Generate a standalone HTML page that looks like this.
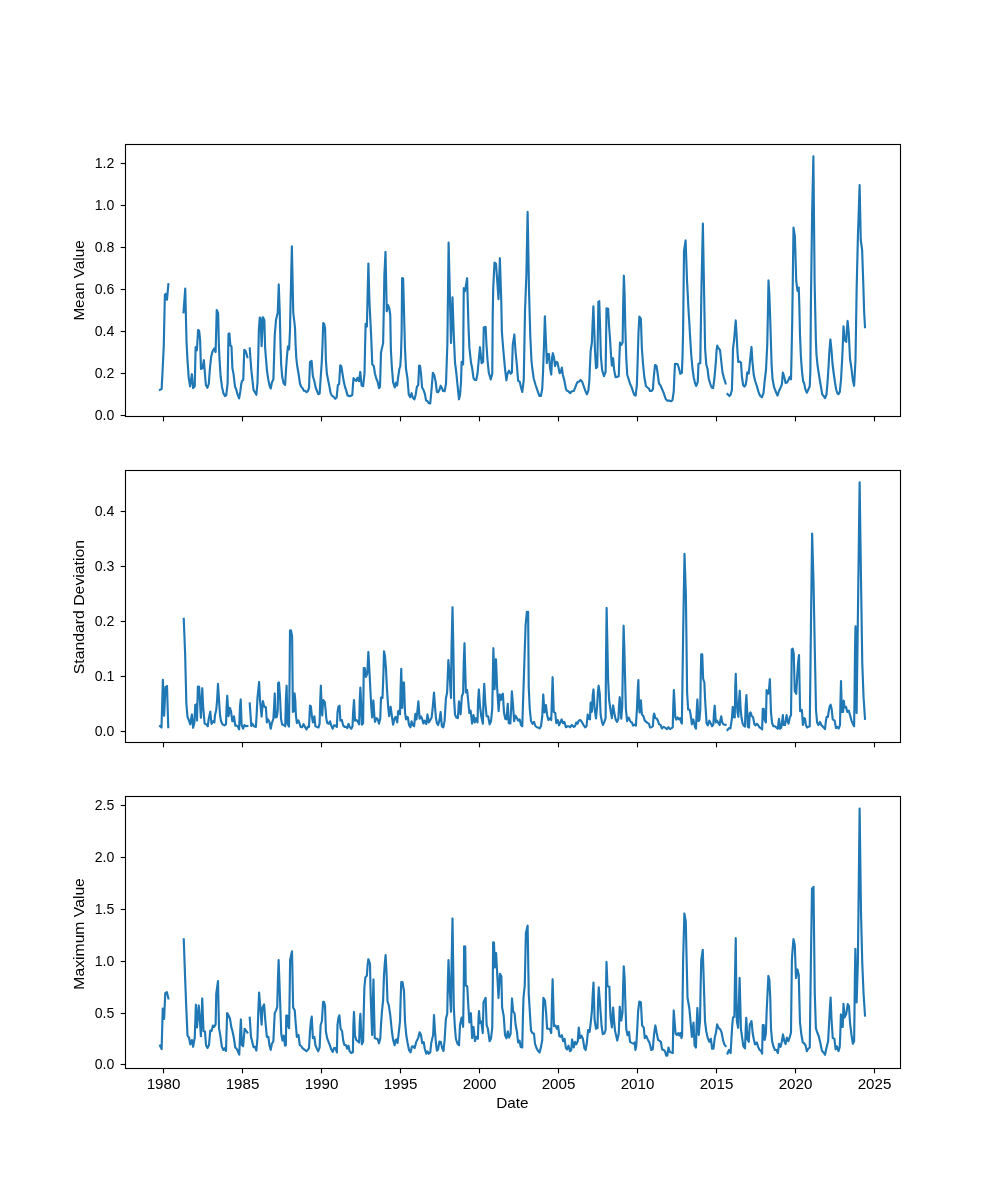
<!DOCTYPE html>
<html><head><meta charset="utf-8"><title>chart</title>
<style>
html,body{margin:0;padding:0;background:#fff;}
svg{display:block;will-change:transform;}
text{font-family:"Liberation Sans",sans-serif;font-size:13.90px;fill:#000;}
.fr{fill:none;stroke:#000;stroke-width:1.11;stroke-linecap:square;stroke-linejoin:miter;}
.tk{stroke:#000;stroke-width:1.11;}
.ln{fill:none;stroke:#1f77b4;stroke-width:2.15;stroke-linejoin:round;stroke-linecap:square;}
</style></head>
<body>
<svg width="1000" height="1200" viewBox="0 0 1000 1200">
<rect x="0" y="0" width="1000" height="1200" fill="#ffffff"/>
<g>
<clipPath id="c0"><rect x="125.50" y="144.50" width="775.00" height="272.00"/></clipPath>
<g clip-path="url(#c0)">
<path class="ln" d="M160.00 389.75 L161.62 389.12 L162.62 370.00 L163.75 346.25 L164.88 294.75 L165.88 293.88 L167.00 299.68 L168.38 284.12"/>
<path class="ln" d="M183.50 312.25 L185.25 288.57 L186.50 341.25 L187.50 360.62 L188.75 378.12 L190.12 386.43 L191.88 374.20 L193.12 388.12 L194.75 386.25 L195.62 347.20 L196.88 350.30 L198.12 330.00 L199.12 330.62 L200.12 340.00 L201.00 369.00 L202.50 368.12 L203.88 360.20 L204.62 370.00 L205.88 385.00 L207.38 387.75 L208.75 384.00 L210.00 367.50 L211.25 356.25 L212.50 351.50 L214.25 348.50 L215.62 352.05 L216.75 310.00 L218.12 313.12 L218.88 345.00 L219.50 358.75 L220.62 376.25 L222.00 386.88 L223.38 393.12 L225.00 396.00 L226.25 395.25 L227.62 383.12 L228.50 333.75 L229.38 333.38 L230.38 345.38 L231.50 346.50 L232.38 368.12 L233.50 373.75 L235.00 386.62 L236.12 389.00 L237.50 394.38 L239.12 398.38 L240.25 391.88 L241.25 384.00 L242.12 380.62 L243.25 380.00 L244.25 349.75 L245.62 351.00 L246.50 353.75 L247.38 357.12"/>
<path class="ln" d="M249.75 348.50 L250.38 357.50 L251.25 369.38 L252.50 380.62 L253.50 390.00 L254.75 391.88 L256.38 394.75 L257.50 382.50 L258.25 357.50 L258.88 330.00 L259.75 317.50 L260.62 318.12 L261.62 346.18 L263.00 317.20 L264.38 320.25 L265.12 347.50 L265.88 357.50 L267.00 370.62 L268.25 379.38 L269.50 385.62 L270.75 388.50 L271.88 382.50 L273.38 379.38 L274.12 356.25 L274.75 335.00 L276.00 320.00 L277.75 312.50 L278.75 284.45 L279.75 312.50 L280.50 345.00 L281.12 363.75 L282.12 376.25 L283.50 383.12 L285.12 385.00 L286.00 370.00 L286.88 357.50 L287.88 346.50 L289.12 349.38 L290.00 330.00 L290.62 300.00 L291.88 246.32 L293.25 312.50 L295.00 327.50 L295.62 345.00 L296.25 357.50 L297.25 366.25 L298.75 375.00 L300.00 383.75 L301.25 386.88 L302.75 388.50 L303.75 390.62 L305.38 391.00 L306.62 392.25 L307.88 391.00 L309.00 388.12 L310.00 361.88 L311.62 361.00 L312.88 376.25 L314.38 381.25 L315.62 387.50 L317.12 391.25 L318.25 394.12 L319.62 393.75 L320.62 378.75 L321.75 362.50 L322.50 345.00 L323.25 323.12 L324.25 324.00 L325.12 328.75 L325.88 360.00 L326.88 373.75 L328.12 380.00 L329.38 386.25 L330.62 393.12 L331.88 395.62 L333.75 396.88 L335.25 398.75 L336.62 397.50 L337.88 385.00 L339.12 384.00 L340.25 365.25 L341.25 366.00 L342.50 373.75 L343.75 381.62 L345.00 386.88 L346.25 390.62 L347.50 395.38 L350.00 396.25 L352.25 395.00 L353.50 378.12 L355.00 380.00 L356.25 380.88 L357.50 377.75 L359.00 381.25 L360.25 371.95 L361.62 385.62 L363.12 386.25 L364.50 373.75 L365.12 345.00 L365.62 323.75 L366.88 326.62 L367.62 295.00 L368.38 263.57 L369.38 300.00 L370.62 325.00 L371.38 341.25 L372.25 364.38 L373.75 366.00 L375.00 373.75 L376.25 378.50 L377.50 381.25 L379.00 388.12 L380.00 386.88 L381.00 352.50 L382.00 348.12 L383.12 343.12 L383.75 312.50 L384.38 275.00 L385.50 251.95 L386.25 287.50 L386.75 311.18 L388.00 305.07 L389.38 308.75 L390.25 315.00 L390.88 350.00 L391.88 367.50 L393.12 382.50 L394.75 387.43 L395.88 382.57 L397.12 385.55 L398.12 377.50 L399.38 368.75 L400.25 366.25 L401.00 355.00 L401.62 332.50 L402.12 278.12 L403.12 278.50 L403.75 301.25 L404.38 326.25 L405.00 348.75 L406.00 368.75 L407.50 378.75 L408.75 394.38 L410.25 397.25 L411.62 393.20 L412.75 397.50 L414.38 399.38 L415.62 395.00 L416.88 386.88 L418.25 385.00 L419.12 365.62 L420.12 366.00 L421.00 373.75 L422.12 387.50 L423.75 390.62 L425.00 394.38 L426.00 400.38 L427.50 401.25 L428.75 403.12 L430.25 403.50 L431.25 392.50 L432.12 382.50 L432.88 372.75 L434.38 375.62 L435.62 381.25 L436.88 391.88 L438.12 392.25 L439.38 390.00 L440.62 385.70 L441.88 388.12 L443.12 391.00 L444.62 391.25 L446.00 383.75 L447.38 343.75 L448.62 242.57 L449.88 295.00 L451.00 343.05 L452.50 297.32 L453.25 320.00 L454.00 340.00 L455.00 362.50 L456.25 372.50 L457.50 385.00 L459.00 399.30 L460.00 395.00 L461.00 382.50 L461.62 361.88 L463.12 364.38 L463.75 288.20 L465.00 291.18 L467.12 278.20 L467.75 301.25 L468.50 326.25 L469.38 347.50 L471.00 362.50 L472.25 368.75 L473.50 378.12 L475.00 380.00 L476.25 380.00 L477.50 373.75 L478.75 360.00 L480.00 347.20 L481.62 363.12 L483.12 361.88 L483.75 327.50 L485.62 326.88 L486.50 345.00 L487.50 360.00 L488.75 372.50 L490.75 379.55 L492.25 373.75 L492.75 312.50 L493.25 287.50 L494.50 262.50 L496.00 263.75 L497.25 281.25 L498.50 299.30 L499.88 258.20 L501.25 300.00 L501.88 331.25 L502.50 340.00 L503.75 355.00 L505.00 368.75 L506.38 380.30 L507.50 373.75 L509.00 370.62 L510.62 373.75 L511.88 372.50 L512.75 345.00 L514.38 334.45 L515.62 352.50 L516.88 365.00 L518.12 380.62 L519.75 381.88 L521.00 387.50 L522.25 392.05 L523.75 380.00 L525.00 311.25 L526.38 275.00 L527.62 211.95 L529.00 290.00 L530.25 335.00 L531.50 361.25 L532.50 370.00 L533.75 378.75 L535.62 385.00 L537.50 390.62 L539.38 396.00 L540.88 396.00 L542.25 388.75 L543.12 370.00 L544.00 345.00 L544.88 316.32 L545.88 340.00 L546.88 363.05 L547.88 354.00 L549.00 354.00 L550.00 367.50 L551.25 374.55 L552.12 357.50 L552.88 353.20 L554.00 357.50 L555.00 366.18 L556.25 361.88 L557.50 362.50 L558.50 367.50 L559.62 373.12 L560.62 372.50 L561.88 367.57 L562.88 375.00 L564.38 380.62 L565.88 388.75 L566.88 390.62 L568.38 391.25 L570.00 393.12 L571.88 391.25 L573.75 391.00 L575.00 388.12 L576.50 384.00 L577.75 381.88 L579.12 381.62 L580.62 380.00 L582.12 381.62 L583.75 386.25 L585.25 390.62 L586.88 394.38 L588.38 390.62 L589.38 380.00 L590.00 365.00 L590.62 351.25 L591.88 342.50 L592.50 326.25 L593.38 306.32 L594.38 332.50 L595.00 351.25 L596.00 368.12 L597.25 366.88 L597.88 332.50 L598.38 301.88 L599.25 301.25 L600.00 323.75 L600.88 356.25 L602.12 370.00 L604.00 376.18 L605.62 371.88 L606.00 345.00 L606.50 308.25 L608.12 308.75 L609.00 325.00 L610.00 338.75 L611.00 355.00 L611.88 365.55 L613.12 358.20 L614.12 370.00 L615.62 377.25 L617.25 376.88 L618.75 376.25 L619.38 357.50 L620.00 342.50 L621.25 345.00 L622.62 342.50 L623.12 307.50 L623.88 275.70 L624.62 295.00 L625.25 326.25 L626.25 357.50 L627.25 375.00 L628.50 378.75 L630.00 383.75 L631.50 386.88 L633.12 391.88 L634.38 395.00 L635.62 395.62 L636.88 385.00 L637.75 357.50 L638.50 332.50 L639.38 316.50 L640.88 318.75 L641.88 348.75 L643.12 365.00 L644.38 377.50 L646.00 386.25 L647.50 387.50 L649.00 388.75 L650.00 391.00 L651.50 391.00 L652.88 389.38 L653.75 377.50 L655.00 365.00 L656.50 366.00 L657.50 372.50 L659.00 383.50 L660.62 385.62 L661.88 388.75 L663.75 393.12 L665.62 398.75 L667.12 400.62 L669.00 400.62 L671.25 401.25 L672.50 400.00 L673.75 391.25 L674.38 376.25 L675.00 363.75 L677.50 364.00 L678.75 367.50 L680.25 373.75 L681.88 372.75 L682.50 357.50 L683.12 330.00 L684.00 251.25 L685.62 240.45 L687.00 280.00 L688.38 307.50 L689.38 323.75 L690.00 335.00 L691.25 355.00 L692.50 368.75 L693.75 377.50 L695.00 383.12 L696.25 386.00 L697.75 381.88 L698.50 363.75 L700.25 363.12 L701.50 286.25 L702.88 223.57 L704.25 301.25 L705.12 348.75 L706.25 364.38 L707.50 368.75 L708.75 378.75 L710.25 383.75 L711.62 387.50 L713.12 388.12 L714.38 378.75 L715.62 365.00 L716.62 350.00 L717.25 345.62 L718.50 348.12 L720.00 350.00 L721.25 361.25 L722.50 372.50 L724.00 378.12 L725.62 383.50"/>
<path class="ln" d="M727.50 394.00 L729.38 396.00 L730.62 394.75 L731.88 390.00 L732.50 370.00 L733.00 348.75 L734.12 340.00 L735.00 328.75 L735.75 320.45 L736.62 335.00 L737.50 352.50 L738.25 361.88 L739.75 361.50 L741.00 362.75 L741.88 376.25 L743.12 385.00 L744.38 386.50 L745.62 385.00 L746.50 380.00 L747.25 372.25 L748.75 373.50 L749.75 363.75 L750.62 355.00 L751.50 346.95 L752.50 362.50 L753.75 375.00 L755.25 381.25 L756.88 386.25 L758.50 391.88 L760.00 395.62 L761.88 397.25 L763.50 393.12 L764.75 380.00 L766.00 370.00 L766.62 357.50 L767.25 345.00 L767.88 313.75 L768.50 280.45 L769.38 295.00 L770.25 320.00 L771.00 345.00 L771.62 365.00 L772.50 378.75 L774.00 386.88 L775.62 391.25 L777.50 395.62 L779.00 391.00 L780.62 387.50 L781.88 384.38 L782.88 372.57 L784.38 377.50 L785.62 383.12 L787.25 382.25 L788.50 379.75 L789.75 376.88 L791.00 379.30 L791.50 357.50 L792.25 320.00 L793.50 227.57 L794.88 236.25 L796.25 281.25 L797.50 290.80 L798.75 287.57 L799.38 307.50 L800.00 335.00 L800.88 356.25 L801.88 370.00 L803.12 381.25 L804.12 383.12 L805.38 389.38 L806.88 392.75 L808.12 390.00 L809.75 386.25 L810.38 370.00 L810.88 305.00 L812.12 213.75 L813.38 156.32 L814.62 282.50 L815.88 340.00 L816.50 355.00 L817.50 365.00 L819.00 375.00 L820.62 385.00 L822.25 394.38 L823.75 396.25 L825.12 398.12 L826.50 394.38 L827.50 382.50 L828.50 367.50 L829.38 351.25 L830.38 339.45 L831.50 350.00 L832.50 363.75 L833.75 373.75 L835.00 382.50 L836.25 390.00 L837.50 393.50 L838.50 394.12 L839.75 391.88 L841.00 380.00 L842.25 357.50 L843.00 340.00 L843.50 326.32 L844.62 340.00 L846.25 341.88 L846.88 330.00 L847.62 320.95 L848.75 332.50 L850.00 358.75 L851.50 368.75 L852.75 380.00 L854.12 385.80 L855.50 360.00 L856.62 290.00 L857.88 237.50 L859.62 185.07 L860.75 240.00 L862.12 250.00 L863.25 282.50 L864.12 311.25 L865.00 327.12"/>
</g>
<line class="tk" x1="163.50" y1="416.50" x2="163.50" y2="421.36"/>
<line class="tk" x1="242.50" y1="416.50" x2="242.50" y2="421.36"/>
<line class="tk" x1="321.50" y1="416.50" x2="321.50" y2="421.36"/>
<line class="tk" x1="400.50" y1="416.50" x2="400.50" y2="421.36"/>
<line class="tk" x1="479.50" y1="416.50" x2="479.50" y2="421.36"/>
<line class="tk" x1="558.50" y1="416.50" x2="558.50" y2="421.36"/>
<line class="tk" x1="637.50" y1="416.50" x2="637.50" y2="421.36"/>
<line class="tk" x1="716.50" y1="416.50" x2="716.50" y2="421.36"/>
<line class="tk" x1="795.50" y1="416.50" x2="795.50" y2="421.36"/>
<line class="tk" x1="874.50" y1="416.50" x2="874.50" y2="421.36"/>
<line class="tk" x1="120.64" y1="415.50" x2="125.50" y2="415.50"/>
<text transform="translate(114.24 420.30) scale(1.015 1)" text-anchor="end">0.0</text>
<line class="tk" x1="120.64" y1="373.50" x2="125.50" y2="373.50"/>
<text transform="translate(114.24 378.30) scale(1.015 1)" text-anchor="end">0.2</text>
<line class="tk" x1="120.64" y1="331.50" x2="125.50" y2="331.50"/>
<text transform="translate(114.24 336.30) scale(1.015 1)" text-anchor="end">0.4</text>
<line class="tk" x1="120.64" y1="289.50" x2="125.50" y2="289.50"/>
<text transform="translate(114.24 294.30) scale(1.015 1)" text-anchor="end">0.6</text>
<line class="tk" x1="120.64" y1="247.50" x2="125.50" y2="247.50"/>
<text transform="translate(114.24 252.30) scale(1.015 1)" text-anchor="end">0.8</text>
<line class="tk" x1="120.64" y1="205.50" x2="125.50" y2="205.50"/>
<text transform="translate(114.24 210.30) scale(1.015 1)" text-anchor="end">1.0</text>
<line class="tk" x1="120.64" y1="163.50" x2="125.50" y2="163.50"/>
<text transform="translate(114.24 168.30) scale(1.015 1)" text-anchor="end">1.2</text>
<rect class="fr" x="125.50" y="144.50" width="775.00" height="272.00"/>
<text transform="translate(84.00 280.50) rotate(-90) scale(1.098 1)" text-anchor="middle">Mean Value</text>
</g>
<g>
<clipPath id="c1"><rect x="125.50" y="470.50" width="775.00" height="272.00"/></clipPath>
<g clip-path="url(#c1)">
<path class="ln" d="M160.00 726.00 L161.50 727.50 L162.88 679.83 L164.12 715.80 L165.50 687.12 L167.00 686.00 L168.25 727.25"/>
<path class="ln" d="M183.75 618.75 L185.12 653.75 L186.38 703.75 L187.50 716.88 L188.75 720.00 L190.25 724.30 L191.88 714.45 L193.12 727.80 L194.38 722.50 L195.25 705.00 L196.25 704.38 L197.00 720.55 L197.88 686.50 L199.12 686.88 L200.00 702.50 L200.88 717.80 L202.25 688.20 L203.12 706.25 L204.62 723.50 L206.25 724.38 L207.75 726.25 L208.75 718.75 L210.25 711.70 L211.50 724.00 L213.12 721.25 L214.38 722.50 L215.00 715.00 L216.25 710.00 L217.12 700.00 L218.00 683.83 L219.00 700.00 L220.00 715.00 L221.00 721.00 L222.50 724.38 L224.38 725.38 L226.00 724.12 L226.62 706.25 L227.25 695.70 L228.50 716.17 L230.00 707.95 L231.00 711.25 L232.25 721.00 L233.12 721.25 L234.00 716.33 L235.25 725.62 L236.62 725.62 L237.75 726.50 L239.12 729.38 L240.00 706.25 L240.75 699.45 L241.62 725.00 L243.12 728.67 L244.38 725.00 L245.62 726.25 L247.38 726.00"/>
<path class="ln" d="M249.75 703.50 L250.62 716.25 L251.25 726.00 L252.50 723.75 L254.00 726.25 L255.88 726.88 L256.62 715.00 L257.50 697.50 L259.12 681.95 L260.00 700.00 L261.62 716.55 L262.88 701.08 L264.12 706.25 L265.88 707.50 L266.88 722.42 L268.12 719.45 L269.38 721.88 L270.75 728.67 L271.88 723.12 L273.38 718.75 L274.12 706.25 L274.75 693.45 L275.62 717.50 L276.88 716.88 L277.75 710.00 L278.12 683.12 L279.00 682.50 L280.00 696.25 L281.00 718.75 L282.12 724.38 L283.75 725.00 L285.25 726.25 L285.88 700.00 L286.62 685.70 L287.50 723.75 L289.00 726.50 L289.62 675.00 L290.00 630.62 L291.00 630.38 L292.12 636.25 L292.88 711.88 L293.75 711.25 L294.62 693.45 L295.25 700.00 L295.88 715.00 L296.88 723.05 L298.38 720.45 L299.38 723.12 L300.62 726.88 L302.12 727.25 L303.50 724.12 L305.00 726.88 L306.50 729.38 L307.88 726.88 L309.00 726.88 L310.00 705.62 L310.88 706.25 L311.88 716.25 L312.88 722.42 L314.38 716.33 L315.38 726.25 L316.88 726.88 L318.50 727.50 L319.62 723.75 L320.25 700.00 L320.88 685.70 L321.62 706.25 L322.25 715.55 L323.12 700.00 L324.75 701.88 L325.62 710.00 L326.25 718.12 L327.25 723.12 L328.75 723.75 L330.00 721.33 L331.25 725.62 L332.75 728.75 L334.00 725.38 L335.62 725.62 L336.88 726.88 L337.50 712.50 L338.38 706.88 L339.50 705.62 L340.38 720.62 L341.88 720.00 L343.12 725.38 L344.62 726.88 L346.25 726.88 L347.25 728.12 L348.50 723.83 L349.62 726.88 L351.25 728.75 L352.50 726.25 L353.12 712.50 L354.00 700.08 L355.00 720.62 L356.50 720.00 L357.88 721.88 L359.12 724.38 L359.75 700.00 L360.38 687.58 L361.25 706.25 L361.88 724.75 L363.12 723.12 L363.75 668.12 L364.75 668.12 L365.88 676.88 L367.25 673.75 L368.38 651.95 L369.38 670.00 L370.38 690.00 L371.25 706.25 L372.12 717.42 L373.38 700.45 L374.38 716.25 L375.00 721.80 L376.25 718.12 L377.50 718.75 L379.00 723.67 L380.25 718.75 L381.00 697.50 L382.50 698.12 L383.38 675.00 L384.00 651.33 L385.00 656.25 L386.00 668.75 L386.88 687.50 L388.12 706.25 L389.12 716.17 L390.62 706.70 L391.88 716.25 L393.12 724.67 L394.38 718.75 L395.62 716.88 L397.25 722.42 L398.12 711.25 L399.00 710.62 L400.00 714.30 L400.62 687.50 L401.25 668.83 L402.25 708.05 L403.12 682.50 L404.00 682.50 L405.00 712.50 L406.00 719.30 L406.88 716.88 L407.88 717.50 L409.00 725.00 L410.38 727.25 L411.62 721.33 L412.75 725.00 L414.12 726.25 L415.38 713.83 L416.50 719.30 L417.50 710.00 L418.38 701.33 L419.62 718.67 L420.88 716.33 L422.12 718.75 L423.38 723.50 L424.62 720.62 L426.25 724.12 L427.50 714.45 L428.75 722.50 L430.00 720.62 L431.62 717.50 L432.50 710.00 L434.00 692.58 L435.00 706.25 L435.88 717.50 L436.88 723.12 L438.12 725.00 L439.38 720.62 L440.62 711.95 L441.88 726.25 L443.38 727.25 L444.62 720.62 L445.88 698.75 L447.12 692.50 L448.38 660.08 L449.62 675.00 L451.00 698.05 L451.50 650.00 L452.50 607.20 L453.38 650.00 L454.12 698.75 L455.00 714.38 L456.25 717.50 L457.88 718.12 L459.00 701.33 L460.62 714.30 L461.88 696.25 L463.12 693.12 L463.75 662.50 L464.50 643.20 L465.38 675.00 L465.88 692.50 L467.12 690.00 L468.12 700.00 L469.38 713.05 L470.62 710.70 L472.12 723.67 L473.50 715.08 L474.75 722.42 L476.00 718.20 L477.50 722.42 L478.12 700.00 L478.88 689.45 L480.00 706.25 L481.25 716.25 L482.88 723.67 L483.50 700.00 L484.25 683.83 L485.25 702.50 L486.62 716.25 L488.12 716.25 L489.62 724.38 L491.00 721.25 L492.25 708.75 L492.88 675.00 L493.38 648.20 L494.62 689.30 L496.00 659.20 L497.12 687.50 L498.62 711.17 L499.75 694.45 L501.00 699.92 L501.88 695.00 L502.88 693.75 L504.00 712.50 L505.25 718.75 L506.50 719.38 L507.75 703.83 L508.75 723.12 L510.38 723.50 L511.25 706.25 L511.88 691.33 L513.12 706.25 L514.12 721.17 L515.38 715.62 L516.62 717.50 L518.12 720.62 L519.62 719.38 L521.00 725.00 L522.25 726.25 L523.12 700.00 L523.75 681.25 L524.75 650.00 L525.62 625.00 L526.88 611.88 L528.12 611.88 L528.75 687.50 L529.75 708.75 L531.00 721.00 L532.50 723.75 L534.00 721.88 L535.38 726.00 L536.88 727.25 L538.12 727.50 L539.62 728.38 L541.00 726.25 L542.25 716.25 L543.25 694.45 L544.50 712.42 L545.88 705.08 L547.12 715.00 L548.38 720.00 L550.00 718.12 L551.25 720.00 L551.88 700.00 L552.62 677.20 L553.75 711.88 L555.25 712.88 L556.25 723.12 L557.75 720.00 L559.00 725.30 L560.25 722.50 L561.62 719.45 L562.88 723.12 L564.38 721.88 L565.88 727.25 L567.50 726.25 L568.75 726.25 L570.00 727.25 L571.88 725.00 L573.75 726.88 L575.00 726.25 L576.25 722.50 L577.50 723.75 L578.75 720.62 L580.25 720.00 L581.88 721.88 L583.50 725.00 L585.00 727.25 L586.50 726.25 L587.75 714.45 L588.75 718.75 L590.00 719.38 L590.62 702.58 L591.88 711.80 L592.75 695.00 L593.50 689.45 L594.62 708.75 L596.00 718.42 L597.12 706.25 L597.88 692.50 L598.62 685.70 L599.75 693.75 L600.62 715.00 L601.88 721.25 L602.88 725.00 L604.38 721.88 L605.62 718.12 L606.00 662.50 L606.62 607.95 L607.50 650.00 L608.12 680.00 L609.12 700.00 L610.62 710.62 L611.88 718.05 L613.12 705.45 L614.38 713.12 L615.62 719.38 L617.12 721.88 L618.38 718.75 L619.00 706.25 L619.75 697.20 L621.25 718.67 L622.25 706.25 L622.88 662.50 L623.62 625.70 L624.38 650.00 L625.00 675.00 L625.88 708.75 L627.12 721.17 L628.75 717.58 L630.62 721.88 L631.88 722.50 L633.12 725.62 L634.38 724.62 L635.88 725.62 L636.88 710.00 L637.75 690.00 L638.38 680.08 L639.00 706.25 L639.62 712.42 L640.88 700.33 L641.88 714.38 L643.50 716.25 L644.75 720.62 L646.25 721.88 L647.75 723.12 L649.00 723.75 L650.00 727.50 L651.50 727.25 L652.88 726.25 L653.50 716.25 L654.12 713.58 L655.38 718.12 L656.88 718.75 L658.12 721.25 L659.12 724.38 L660.62 725.00 L661.88 728.50 L663.38 726.88 L665.00 727.50 L666.88 729.12 L668.50 727.25 L670.00 729.12 L671.62 728.12 L672.75 727.25 L673.25 706.25 L673.88 690.08 L674.75 706.25 L675.25 716.88 L676.25 719.75 L677.50 717.50 L679.00 719.38 L680.38 718.12 L681.00 721.88 L681.88 723.50 L683.12 635.00 L684.50 553.83 L685.88 595.00 L687.12 692.50 L688.12 709.38 L689.75 710.00 L690.88 716.25 L691.88 724.30 L693.38 719.45 L694.12 723.12 L695.00 726.88 L696.00 728.67 L696.62 712.50 L697.38 699.45 L698.50 721.25 L699.38 720.00 L700.25 710.00 L700.75 675.00 L701.25 654.38 L702.25 654.38 L703.12 678.75 L704.38 682.50 L705.00 697.50 L705.88 712.50 L706.62 723.12 L707.88 725.38 L709.38 720.70 L710.62 723.12 L712.12 726.25 L713.38 724.38 L714.00 712.50 L714.75 705.70 L715.88 722.50 L717.12 720.62 L718.38 723.12 L719.62 725.00 L720.38 720.00 L721.25 716.33 L722.25 722.50 L723.50 724.38 L725.62 724.75"/>
<path class="ln" d="M727.50 730.00 L729.00 728.12 L730.38 728.50 L731.25 723.12 L731.88 718.75 L732.75 706.95 L733.50 716.88 L734.75 717.50 L735.25 687.50 L735.75 673.83 L736.62 700.00 L737.50 712.50 L738.38 716.80 L739.12 700.00 L739.75 690.70 L740.62 708.75 L741.50 717.50 L742.50 723.12 L743.75 725.62 L745.00 726.50 L745.62 706.25 L746.38 695.08 L747.25 712.50 L747.88 726.88 L749.00 727.50 L749.75 713.12 L750.62 712.50 L751.88 716.25 L753.12 717.25 L754.38 724.38 L755.62 725.38 L756.88 723.75 L758.12 725.00 L759.38 727.25 L760.88 728.12 L762.12 729.38 L762.75 708.75 L763.75 708.75 L764.62 720.00 L765.88 722.42 L766.62 690.08 L768.12 693.67 L769.00 690.00 L769.88 679.20 L771.00 712.50 L772.12 723.12 L773.38 726.25 L775.00 726.25 L776.25 727.50 L777.75 728.75 L779.00 718.83 L780.00 728.75 L781.25 727.50 L782.88 715.08 L783.50 725.00 L785.00 725.00 L786.62 715.08 L787.25 720.00 L788.50 723.67 L789.75 717.50 L791.00 715.00 L791.38 687.50 L791.75 649.38 L792.75 648.75 L793.75 653.75 L794.75 691.25 L796.25 693.75 L797.25 675.00 L798.12 662.50 L799.00 655.08 L799.62 687.50 L800.12 711.25 L801.88 710.00 L802.88 724.92 L804.12 718.12 L805.00 718.75 L805.88 725.00 L807.12 727.50 L808.38 726.88 L809.75 726.25 L810.88 631.25 L812.12 533.58 L813.50 581.25 L814.75 647.50 L816.00 710.00 L817.12 722.50 L818.38 725.00 L820.00 721.88 L821.25 725.00 L823.12 726.88 L825.00 729.12 L825.88 721.25 L826.62 716.88 L827.88 716.88 L828.75 711.25 L829.75 706.25 L830.62 704.75 L831.62 708.75 L832.75 719.38 L834.62 720.62 L836.00 728.12 L837.12 726.88 L838.75 728.50 L840.00 725.00 L840.50 700.00 L841.00 681.08 L841.88 711.88 L843.12 711.88 L843.75 700.70 L844.62 707.50 L846.00 706.88 L847.25 711.88 L848.75 710.62 L850.00 715.00 L851.50 720.62 L853.12 724.38 L854.12 726.25 L854.50 700.00 L855.00 650.00 L855.50 626.33 L856.00 675.00 L856.62 713.05 L858.12 598.75 L859.62 482.32 L861.00 578.50 L862.25 662.50 L863.50 696.25 L865.00 718.75"/>
</g>
<line class="tk" x1="163.50" y1="742.50" x2="163.50" y2="747.36"/>
<line class="tk" x1="242.50" y1="742.50" x2="242.50" y2="747.36"/>
<line class="tk" x1="321.50" y1="742.50" x2="321.50" y2="747.36"/>
<line class="tk" x1="400.50" y1="742.50" x2="400.50" y2="747.36"/>
<line class="tk" x1="479.50" y1="742.50" x2="479.50" y2="747.36"/>
<line class="tk" x1="558.50" y1="742.50" x2="558.50" y2="747.36"/>
<line class="tk" x1="637.50" y1="742.50" x2="637.50" y2="747.36"/>
<line class="tk" x1="716.50" y1="742.50" x2="716.50" y2="747.36"/>
<line class="tk" x1="795.50" y1="742.50" x2="795.50" y2="747.36"/>
<line class="tk" x1="874.50" y1="742.50" x2="874.50" y2="747.36"/>
<line class="tk" x1="120.64" y1="731.50" x2="125.50" y2="731.50"/>
<text transform="translate(114.24 736.30) scale(1.015 1)" text-anchor="end">0.0</text>
<line class="tk" x1="120.64" y1="676.50" x2="125.50" y2="676.50"/>
<text transform="translate(114.24 681.30) scale(1.015 1)" text-anchor="end">0.1</text>
<line class="tk" x1="120.64" y1="621.50" x2="125.50" y2="621.50"/>
<text transform="translate(114.24 626.30) scale(1.015 1)" text-anchor="end">0.2</text>
<line class="tk" x1="120.64" y1="566.50" x2="125.50" y2="566.50"/>
<text transform="translate(114.24 571.30) scale(1.015 1)" text-anchor="end">0.3</text>
<line class="tk" x1="120.64" y1="511.50" x2="125.50" y2="511.50"/>
<text transform="translate(114.24 516.30) scale(1.015 1)" text-anchor="end">0.4</text>
<rect class="fr" x="125.50" y="470.50" width="775.00" height="272.00"/>
<text transform="translate(84.00 607.10) rotate(-90) scale(1.137 1)" text-anchor="middle">Standard Deviation</text>
</g>
<g>
<clipPath id="c2"><rect x="125.50" y="796.50" width="775.00" height="272.00"/></clipPath>
<g clip-path="url(#c2)">
<path class="ln" d="M160.00 1045.62 L161.62 1049.12 L162.75 1008.58 L164.12 1018.92 L165.25 993.12 L166.88 992.12 L168.38 998.38"/>
<path class="ln" d="M183.75 939.38 L185.00 975.00 L186.25 1006.88 L187.50 1035.62 L189.00 1037.50 L190.25 1044.30 L191.88 1040.08 L193.12 1046.80 L194.75 1037.50 L195.88 1004.70 L197.00 1027.42 L198.75 1005.45 L200.00 1022.50 L200.88 1036.17 L202.25 998.45 L203.50 1031.25 L205.00 1031.50 L206.00 1045.00 L207.50 1048.12 L209.00 1045.00 L210.25 1030.62 L211.62 1031.00 L212.88 1025.62 L214.12 1026.88 L215.62 1024.38 L216.25 993.75 L217.12 987.50 L218.00 981.08 L219.00 1028.12 L220.25 1035.00 L221.88 1046.88 L223.38 1050.00 L224.75 1048.12 L226.00 1051.00 L227.12 1013.12 L228.12 1014.38 L230.00 1018.75 L231.25 1026.88 L232.50 1031.25 L234.00 1038.75 L235.25 1047.50 L236.62 1048.75 L237.88 1051.25 L239.25 1054.67 L240.25 1031.25 L240.88 1019.45 L241.88 1045.00 L243.12 1046.25 L244.62 1028.75 L246.00 1030.62 L247.38 1032.50"/>
<path class="ln" d="M249.75 1017.75 L251.00 1036.88 L252.25 1041.88 L253.50 1047.12 L255.00 1046.88 L256.38 1050.55 L257.50 1037.50 L258.25 1012.50 L259.12 992.58 L260.25 1006.25 L261.62 1024.67 L262.50 1007.50 L264.12 1004.38 L265.25 1020.00 L266.88 1036.88 L268.38 1036.88 L269.38 1045.00 L270.75 1049.92 L271.88 1043.75 L273.38 1041.25 L274.12 1025.00 L274.75 1013.12 L276.00 1010.62 L277.25 1006.88 L277.88 981.25 L278.62 960.08 L279.62 987.50 L280.50 1012.50 L281.25 1033.75 L282.50 1040.55 L283.75 1035.70 L285.00 1045.62 L285.88 1045.00 L286.25 1015.62 L287.25 1015.62 L288.12 1026.25 L289.12 1028.12 L289.75 987.50 L290.12 960.00 L291.00 955.62 L292.00 951.33 L292.50 975.00 L293.12 1007.50 L294.75 1010.62 L295.62 1022.50 L296.88 1036.88 L298.50 1035.00 L299.75 1045.00 L301.25 1046.25 L302.50 1048.12 L304.38 1049.62 L306.50 1051.25 L307.88 1049.75 L309.00 1048.12 L310.00 1031.25 L310.88 1021.25 L311.75 1016.58 L312.88 1038.12 L314.38 1036.88 L315.38 1045.00 L316.88 1048.75 L318.25 1051.25 L319.62 1047.50 L320.62 1025.00 L321.88 1021.25 L323.12 1001.88 L324.00 1001.88 L325.00 1005.62 L325.88 1031.25 L327.12 1038.12 L328.50 1041.88 L330.00 1045.62 L331.25 1049.38 L332.75 1051.88 L334.00 1048.12 L335.62 1048.12 L336.88 1052.42 L337.50 1025.00 L338.38 1018.12 L339.38 1015.33 L340.62 1028.75 L342.12 1031.25 L343.12 1040.00 L344.38 1045.00 L345.88 1045.00 L347.12 1048.67 L348.50 1045.70 L349.62 1051.25 L351.25 1052.88 L352.88 1052.25 L353.38 1025.00 L354.00 1011.95 L355.00 1035.62 L356.25 1040.00 L357.75 1041.25 L359.12 1042.50 L359.75 1022.50 L360.38 1013.83 L361.25 1033.75 L361.88 1044.30 L363.12 1041.88 L363.75 1012.50 L364.38 987.50 L365.38 977.50 L366.88 975.62 L367.50 966.25 L368.38 959.20 L370.00 963.75 L370.62 993.75 L371.38 1015.00 L372.12 1034.92 L372.88 1000.00 L373.50 979.45 L374.12 1012.50 L374.75 1038.12 L376.25 1038.75 L377.50 1038.75 L379.00 1043.30 L380.25 1038.75 L381.00 1025.00 L381.88 1012.50 L383.12 1000.00 L384.00 975.00 L384.75 963.75 L385.62 955.08 L386.62 975.00 L387.50 1001.25 L388.75 1005.00 L390.25 1015.00 L391.88 1031.25 L393.12 1040.00 L394.62 1045.30 L395.62 1040.00 L396.50 1039.38 L397.50 1043.05 L398.50 1035.00 L400.00 1021.25 L400.62 1000.00 L401.25 982.12 L402.50 982.12 L404.00 991.25 L405.00 1021.25 L406.25 1035.00 L407.50 1042.50 L409.00 1050.00 L410.62 1052.25 L411.88 1046.50 L413.12 1046.25 L414.62 1048.12 L416.25 1041.88 L418.12 1038.12 L419.62 1032.25 L421.00 1035.00 L422.25 1043.12 L423.75 1042.25 L424.75 1048.75 L426.25 1053.67 L427.50 1051.33 L428.75 1053.75 L430.25 1052.50 L431.25 1043.12 L433.12 1035.00 L434.00 1015.08 L435.00 1031.25 L435.88 1042.50 L436.88 1050.62 L438.12 1049.38 L439.38 1041.62 L440.88 1042.12 L442.12 1048.12 L443.50 1051.00 L444.62 1040.00 L445.88 1018.75 L447.25 1013.75 L447.88 981.25 L448.50 960.08 L449.75 990.00 L451.00 1011.80 L451.62 962.50 L452.50 918.45 L453.25 968.75 L453.75 1006.25 L454.75 1025.00 L455.88 1038.75 L457.50 1043.75 L459.00 1045.25 L460.00 1025.00 L461.62 1017.58 L463.12 1026.80 L463.75 987.50 L464.12 946.25 L465.25 946.50 L465.75 985.62 L467.25 986.25 L468.12 1002.50 L469.38 1022.42 L470.88 1013.20 L472.12 1038.05 L473.50 1026.95 L475.00 1041.17 L476.25 1036.88 L477.88 1038.75 L478.50 1018.75 L479.00 1011.08 L480.00 1023.05 L481.25 1021.33 L482.75 1033.05 L483.50 1002.50 L484.62 1000.00 L485.62 997.75 L486.62 1025.00 L487.88 1028.75 L489.62 1041.25 L491.00 1038.75 L492.25 1027.50 L492.75 987.50 L493.12 942.25 L494.00 942.50 L494.75 967.42 L496.12 952.95 L497.25 975.00 L498.50 998.05 L499.88 973.75 L501.38 976.25 L502.12 1007.50 L503.75 1016.25 L505.00 1035.00 L506.50 1038.30 L507.75 1031.33 L509.00 1037.50 L510.62 1033.75 L512.00 998.45 L513.12 1011.25 L514.62 1013.50 L515.62 1025.00 L516.88 1031.25 L518.12 1042.50 L519.62 1040.62 L520.62 1046.88 L522.25 1047.50 L522.88 1018.75 L523.50 997.50 L524.75 985.62 L525.88 933.12 L527.62 925.70 L528.75 993.75 L530.00 1015.00 L531.00 1030.62 L532.50 1033.12 L534.00 1033.75 L535.00 1043.75 L536.50 1048.12 L538.12 1051.00 L539.62 1052.50 L541.00 1046.88 L542.25 1040.00 L542.75 1018.75 L543.38 997.75 L545.00 1000.62 L546.25 1015.00 L547.12 1028.75 L549.00 1028.75 L550.00 1029.38 L551.25 1033.05 L552.00 1000.00 L552.62 979.20 L553.38 1006.25 L554.00 1026.25 L555.62 1025.62 L556.88 1028.75 L558.12 1026.00 L559.38 1036.25 L560.88 1036.88 L561.88 1035.08 L563.12 1041.17 L564.62 1038.83 L565.88 1048.12 L567.12 1049.38 L568.50 1045.70 L570.00 1051.25 L571.25 1050.00 L572.12 1039.45 L573.75 1047.42 L575.00 1041.88 L576.25 1044.38 L577.75 1041.25 L578.75 1027.58 L580.00 1038.05 L581.50 1035.70 L582.88 1038.75 L584.38 1048.12 L585.62 1050.00 L586.88 1042.50 L588.12 1030.00 L589.62 1031.88 L590.62 1023.75 L591.88 1011.25 L592.75 993.75 L593.50 982.58 L594.62 1020.00 L596.00 1028.75 L597.50 1028.12 L598.12 1000.00 L598.75 987.33 L599.75 1000.00 L600.62 1012.50 L601.62 1026.25 L602.75 1034.12 L604.38 1033.50 L605.62 1030.00 L606.00 987.50 L606.50 961.95 L607.50 986.25 L609.38 986.88 L610.00 1006.25 L610.62 1018.12 L611.88 1027.42 L613.12 1007.58 L614.12 1021.25 L615.00 1030.62 L617.25 1040.55 L618.75 1033.75 L619.75 1006.70 L621.25 1020.55 L622.50 1012.50 L623.12 987.50 L623.75 966.33 L624.62 977.50 L625.25 1000.00 L626.25 1028.75 L627.50 1035.25 L629.00 1031.88 L630.00 1041.88 L632.25 1043.12 L633.75 1043.75 L634.62 1042.50 L635.38 1049.92 L636.25 1046.25 L637.12 1031.25 L638.12 1011.25 L639.38 1001.50 L640.88 1002.50 L642.12 1025.62 L643.75 1027.50 L644.75 1038.12 L646.25 1036.00 L647.75 1039.38 L649.38 1042.50 L650.38 1046.25 L651.25 1050.00 L652.75 1049.38 L653.75 1037.50 L654.62 1030.00 L655.38 1025.45 L656.62 1032.50 L658.12 1040.00 L659.38 1040.62 L660.88 1041.88 L662.12 1049.38 L663.75 1050.00 L665.00 1051.25 L666.25 1055.62 L667.25 1055.62 L668.50 1047.58 L669.75 1051.88 L671.25 1052.50 L672.75 1053.12 L673.25 1025.00 L673.75 1010.45 L674.75 1023.75 L675.62 1033.75 L676.88 1035.00 L678.12 1033.12 L679.38 1035.62 L680.38 1032.95 L681.50 1038.05 L682.12 1035.00 L683.12 960.00 L684.38 913.45 L685.75 921.25 L687.50 997.50 L689.38 1008.75 L690.62 1022.50 L691.88 1036.80 L693.50 1022.58 L694.62 1045.62 L696.00 1047.50 L696.62 1025.00 L697.38 1007.95 L698.75 1034.92 L700.00 1021.25 L700.62 987.50 L701.25 960.00 L702.75 949.83 L703.75 981.25 L705.00 1021.25 L706.25 1031.25 L707.75 1038.12 L709.38 1041.80 L710.88 1038.83 L712.12 1048.75 L713.50 1048.75 L714.75 1037.50 L716.00 1032.50 L717.12 1024.38 L718.75 1028.12 L720.25 1029.38 L721.62 1032.50 L723.12 1040.62 L724.38 1044.38 L725.62 1046.00"/>
<path class="ln" d="M727.50 1053.50 L729.00 1050.00 L730.62 1053.12 L731.50 1037.50 L732.25 1025.00 L733.00 1017.50 L734.38 1016.88 L735.00 975.00 L735.75 938.20 L736.25 987.50 L736.88 1021.25 L738.12 1027.80 L739.00 1000.00 L739.62 977.95 L740.38 1006.25 L740.88 1028.75 L742.12 1037.50 L743.38 1046.25 L745.00 1048.38 L745.62 1031.25 L746.25 1017.83 L747.50 1039.38 L748.75 1041.88 L749.75 1025.00 L751.50 1021.00 L752.75 1033.75 L754.00 1040.00 L755.00 1044.38 L756.88 1042.50 L758.12 1046.88 L759.62 1050.00 L760.88 1050.62 L762.12 1053.67 L762.75 1025.00 L763.75 1025.00 L764.62 1039.92 L765.88 1033.75 L766.62 1012.50 L767.50 993.75 L768.38 975.95 L769.38 980.00 L770.25 997.50 L771.00 1028.75 L772.12 1041.25 L773.38 1046.25 L775.00 1050.00 L776.50 1050.00 L777.88 1053.12 L779.00 1043.75 L780.62 1046.88 L781.88 1041.25 L783.00 1034.45 L784.38 1041.25 L785.62 1044.05 L786.88 1037.58 L788.38 1041.17 L790.00 1036.25 L791.00 1032.50 L791.38 1000.00 L791.88 960.00 L792.75 947.50 L793.50 939.20 L794.75 945.00 L796.00 978.05 L797.50 969.45 L798.75 975.00 L799.38 1000.00 L800.00 1022.50 L801.25 1033.75 L802.75 1042.50 L804.12 1043.12 L805.62 1045.62 L806.88 1051.17 L808.12 1048.75 L809.75 1047.50 L810.88 962.50 L812.00 888.75 L813.50 886.88 L814.75 992.50 L815.88 1028.12 L817.25 1032.50 L818.75 1036.25 L820.25 1042.50 L821.88 1050.62 L823.50 1052.50 L825.00 1054.75 L826.25 1048.75 L828.12 1041.25 L829.00 1025.00 L830.00 1006.25 L830.62 997.58 L831.50 1018.75 L832.75 1038.12 L834.38 1038.75 L835.62 1049.30 L836.88 1046.33 L838.50 1051.17 L839.75 1046.88 L840.38 1031.25 L840.88 1014.45 L841.88 1026.88 L842.75 1026.88 L843.50 1003.83 L844.62 1017.42 L846.25 1013.75 L847.75 1004.00 L849.00 1006.25 L850.00 1022.50 L851.50 1035.00 L852.88 1043.75 L854.12 1041.25 L854.50 1012.50 L854.88 975.00 L855.38 948.83 L856.00 975.00 L856.62 1002.42 L857.88 962.50 L859.62 808.58 L861.00 912.50 L862.25 962.50 L863.50 992.50 L865.00 1015.62"/>
</g>
<line class="tk" x1="163.50" y1="1068.50" x2="163.50" y2="1073.36"/>
<text transform="translate(163.50 1089.31) scale(1.090 1)" text-anchor="middle">1980</text>
<line class="tk" x1="242.50" y1="1068.50" x2="242.50" y2="1073.36"/>
<text transform="translate(242.50 1089.31) scale(1.090 1)" text-anchor="middle">1985</text>
<line class="tk" x1="321.50" y1="1068.50" x2="321.50" y2="1073.36"/>
<text transform="translate(321.50 1089.31) scale(1.090 1)" text-anchor="middle">1990</text>
<line class="tk" x1="400.50" y1="1068.50" x2="400.50" y2="1073.36"/>
<text transform="translate(400.50 1089.31) scale(1.090 1)" text-anchor="middle">1995</text>
<line class="tk" x1="479.50" y1="1068.50" x2="479.50" y2="1073.36"/>
<text transform="translate(479.50 1089.31) scale(1.090 1)" text-anchor="middle">2000</text>
<line class="tk" x1="558.50" y1="1068.50" x2="558.50" y2="1073.36"/>
<text transform="translate(558.50 1089.31) scale(1.090 1)" text-anchor="middle">2005</text>
<line class="tk" x1="637.50" y1="1068.50" x2="637.50" y2="1073.36"/>
<text transform="translate(637.50 1089.31) scale(1.090 1)" text-anchor="middle">2010</text>
<line class="tk" x1="716.50" y1="1068.50" x2="716.50" y2="1073.36"/>
<text transform="translate(716.50 1089.31) scale(1.090 1)" text-anchor="middle">2015</text>
<line class="tk" x1="795.50" y1="1068.50" x2="795.50" y2="1073.36"/>
<text transform="translate(795.50 1089.31) scale(1.090 1)" text-anchor="middle">2020</text>
<line class="tk" x1="874.50" y1="1068.50" x2="874.50" y2="1073.36"/>
<text transform="translate(874.50 1089.31) scale(1.090 1)" text-anchor="middle">2025</text>
<line class="tk" x1="120.64" y1="1064.50" x2="125.50" y2="1064.50"/>
<text transform="translate(114.24 1069.30) scale(1.015 1)" text-anchor="end">0.0</text>
<line class="tk" x1="120.64" y1="1013.50" x2="125.50" y2="1013.50"/>
<text transform="translate(114.24 1018.30) scale(1.015 1)" text-anchor="end">0.5</text>
<line class="tk" x1="120.64" y1="961.50" x2="125.50" y2="961.50"/>
<text transform="translate(114.24 966.30) scale(1.015 1)" text-anchor="end">1.0</text>
<line class="tk" x1="120.64" y1="909.50" x2="125.50" y2="909.50"/>
<text transform="translate(114.24 914.30) scale(1.015 1)" text-anchor="end">1.5</text>
<line class="tk" x1="120.64" y1="857.50" x2="125.50" y2="857.50"/>
<text transform="translate(114.24 862.30) scale(1.015 1)" text-anchor="end">2.0</text>
<line class="tk" x1="120.64" y1="805.50" x2="125.50" y2="805.50"/>
<text transform="translate(114.24 810.30) scale(1.015 1)" text-anchor="end">2.5</text>
<rect class="fr" x="125.50" y="796.50" width="775.00" height="272.00"/>
<text transform="translate(84.00 933.90) rotate(-90) scale(1.132 1)" text-anchor="middle">Maximum Value</text>
</g>
<text transform="translate(512.40 1108.00) scale(1.100 1)" text-anchor="middle">Date</text>
</svg>
</body></html>
